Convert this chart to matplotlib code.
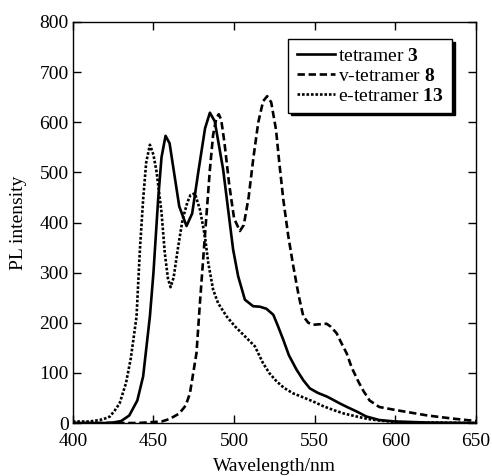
import matplotlib
matplotlib.use("Agg")
import matplotlib.pyplot as plt

plt.rcParams['font.family'] = ['Liberation Serif', 'DejaVu Serif']
plt.rcParams['mathtext.fontset'] = 'custom'
plt.rcParams['mathtext.rm'] = 'Liberation Serif'
plt.rcParams['mathtext.bf'] = 'Liberation Serif:bold'

# tetramer 3 (solid)
wl_3 = [400, 410, 420, 425, 430, 435, 440, 443.6, 447.8, 450, 452.9, 455, 457.5, 460,
        463, 466, 470.5, 474, 478, 482, 485, 488, 490, 493.2, 496.3, 499.4, 502.5,
        506.7, 511.8, 516, 520, 524.3, 527, 530.5, 534, 538.8, 543, 547, 552, 557.4,
        561, 565.6, 570, 576, 582, 590, 600, 620, 650]
pl_3 = [0, 0, 0, 1, 4, 15, 45, 93, 213, 300, 446, 530, 573, 558,
        495, 432, 393, 418, 505, 588, 619, 602, 565, 506, 426, 346, 293,
        246, 233, 232, 228, 216, 195, 166, 135, 106, 85, 69, 60, 53,
        47, 39, 32, 23, 13, 6, 3, 1, 0]

# v-tetramer 8 (dashed)
wl_8 = [400, 440, 450, 455, 460, 466, 470, 472.6, 476.7, 478.8, 481.9, 485, 487,
        489, 490.5, 492, 494, 497, 500, 503.6, 506, 509, 512, 515, 518, 520.5, 523,
        526, 528, 530.5, 533.6, 536.7, 540, 542.9, 546, 549, 553, 557.4, 560, 563.6,
        566, 569.8, 573, 577, 580, 584, 590, 600, 620, 635, 650]
pl_8 = [0, 0, 2, 3, 8, 19, 35, 59, 140, 239, 373, 506, 575,
        608, 616, 605, 560, 475, 408, 383, 395, 450, 530, 600, 642, 652, 640,
        585, 520, 446, 373, 313, 255, 213, 200, 196, 197, 198, 192, 179,
        163, 139, 110, 83, 65, 45, 32, 26, 15, 9, 4]

# e-tetramer 13 (dotted)
wl_13 = [400, 410, 416.7, 420, 423, 426, 429, 433, 436, 439.5, 441.6, 443.6, 445.5,
         447.8, 450, 452, 455, 457, 459, 460.6, 462.5, 465, 468, 471, 473, 475.7,
         478.8, 481.9, 484, 487, 490.1, 495.3, 500.5, 506.7, 512.9, 518, 522, 526.4,
         531, 536.7, 543, 549, 555, 561.5, 568, 576, 583, 590, 600, 620, 650]
pl_13 = [3, 3, 6, 9, 13, 25, 39, 80, 130, 212, 346, 446, 520,
         555, 535, 500, 420, 340, 288, 271, 290, 345, 405, 440, 455, 458,
         426, 373, 319, 266, 239, 213, 193, 173, 153, 119, 99, 83,
         70, 59, 51, 43, 34, 26, 19, 13, 8, 5, 2, 1, 0]

fig = plt.figure(figsize=(4.92, 4.76), dpi=100)
ax = fig.add_axes([0.148, 0.1113, 0.8195, 0.8425])

ax.plot(wl_3, pl_3, color='black', lw=1.9, ls='-', label=r'tetramer $\mathbf{3}$')
ax.plot(wl_8, pl_8, color='black', lw=1.9, ls=(0, (2.8, 1.4)), label=r'v-tetramer $\mathbf{8}$')
ax.plot(wl_13, pl_13, color='black', lw=1.9, ls=(0, (1.0, 0.7)), label=r'e-tetramer $\mathbf{13}$')

ax.set_xlim(400, 650)
ax.set_ylim(0, 800)
ax.set_xticks(range(400, 651, 50))
ax.set_yticks(range(0, 801, 100))
ax.tick_params(direction='in', top=True, right=True, length=6, width=1, labelsize=14)
ax.tick_params(axis='x', pad=7)
ax.tick_params(axis='y', pad=3)
for s in ax.spines.values():
    s.set_linewidth(1)

ax.set_xlabel('Wavelength/nm', fontsize=14, labelpad=6)
ax.set_ylabel('PL intensity', fontsize=14, labelpad=9)

leg = ax.legend(loc='upper right', bbox_to_anchor=(0.94, 0.958), borderaxespad=0,
                fontsize=14, handlelength=2.0, handletextpad=0.12, labelspacing=0.12,
                borderpad=0.42, fancybox=False, frameon=True,
                shadow={'color': 'black', 'alpha': 1})
leg.get_frame().set_edgecolor('black')
leg.get_frame().set_linewidth(1)

fig.savefig('out.png', dpi=100)
